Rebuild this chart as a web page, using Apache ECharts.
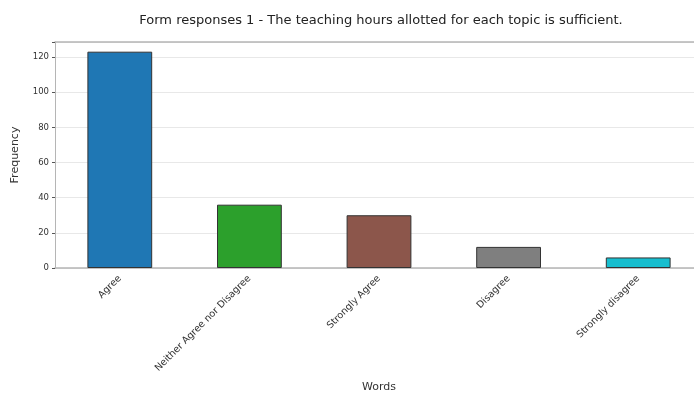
<!DOCTYPE html>
<html><head><meta charset="utf-8">
<script src="https://cdn.jsdelivr.net/npm/echarts@6/dist/echarts.min.js"></script>
<style>html,body{margin:0;padding:0;background:#fff;overflow:hidden;width:694px;height:398px}#c{width:720px;height:398px}</style>
</head><body><div id="c"></div>
<script>
const categories = ["Agree", "Neither Agree nor Disagree", "Strongly Agree", "Disagree", "Strongly disagree"];
const values = [123, 36, 30, 12, 6];
const colors = ["#1f77b4", "#2ca02c", "#8c564b", "#7f7f7f", "#17becf"];
const yTicks = [0, 20, 40, 60, 80, 100, 120];

const chart = echarts.init(document.getElementById('c'), null, {renderer: 'canvas', width: 720, height: 398});
chart.setOption({
  animation: false,
  title: {
    text: "Form responses 1 - The teaching hours allotted for each topic is sufficient.",
    left: 376, top: 9, textAlign: 'center',
    textStyle: {fontFamily: 'DejaVu Sans', fontSize: 13, fontWeight: 'normal', color: '#222'}
  },
  grid: {left: 55, top: 42, width: 648, height: 228, show: false},
  xAxis: [{
    type: 'category', data: categories,
    name: 'Words', nameLocation: 'middle', nameGap: 114,
    nameTextStyle: {fontFamily: 'DejaVu Sans', fontSize: 11, color: '#333'},
    axisLine: {lineStyle: {color: '#b5b5b5', width: 1.5}},
    axisTick: {alignWithLabel: true, length: 3, lineStyle: {color: '#555'}},
    axisLabel: {rotate: 45, fontFamily: 'DejaVu Sans', fontSize: 9.6, color: '#333', margin: 9}
  }, {
    type: 'category', data: categories, position: 'top',
    axisLine: {show: true, onZero: false, lineStyle: {color: '#b5b5b5', width: 1.5}},
    axisTick: {show: false}, axisLabel: {show: false}, splitLine: {show: false}
  }],
  yAxis: {
    type: 'value', min: 0, max: 128.5, interval: 20,
    name: 'Frequency', nameLocation: 'middle', nameGap: 34,
    nameTextStyle: {fontFamily: 'DejaVu Sans', fontSize: 11, color: '#333'},
    axisLine: {show: true, lineStyle: {color: '#b5b5b5', width: 1}},
    axisTick: {show: true, length: 3, lineStyle: {color: '#555'}},
    axisLabel: {fontFamily: 'DejaVu Sans', fontSize: 8.5, color: '#333', margin: 6,
      formatter: v => yTicks.includes(v) ? String(v) : ''},
    splitLine: {show: true, lineStyle: {color: '#e8e8e8', width: 1}}
  },
  series: [{
    type: 'bar', barWidth: '50%', xAxisIndex: 0,
    data: values.map((v, i) => ({value: v, itemStyle: {color: colors[i]}})),
    itemStyle: {borderColor: '#333', borderWidth: 1}
  }]
});
</script></body></html>
